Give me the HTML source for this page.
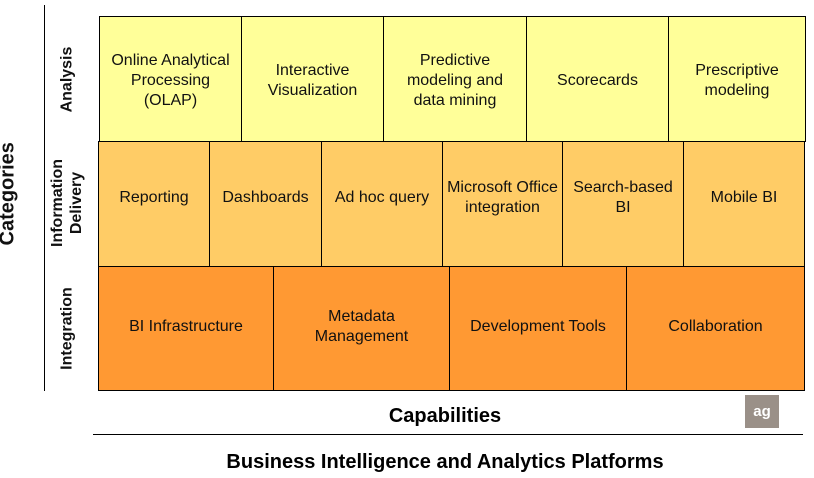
<!DOCTYPE html>
<html><head><style>
body{margin:0;width:814px;height:478px;background:#fff;position:relative;overflow:hidden;font-family:"Liberation Sans",sans-serif}
.c{position:absolute;box-sizing:border-box;border:1px solid #000;display:flex;align-items:center;justify-content:center;text-align:center;font-size:16px;line-height:20px;color:#111}
.r1{background:#FFFF99;top:16px;height:126px;padding-top:4px}
.r2{background:#FFCC66;top:141px;height:126px;padding-bottom:12px}
.r3{background:#FF9933;top:266px;height:125px;padding-bottom:4px}
.v{position:absolute;transform:rotate(-90deg);transform-origin:center;white-space:nowrap;text-align:center;font-size:16px;line-height:19px;color:#111;font-weight:bold}
</style></head><body>
<div style="position:absolute;left:44px;top:5px;width:1px;height:386px;background:#000"></div>
<div class="v" style="left:-42px;top:186px;width:100px;font-size:20px">Categories</div>
<div class="v" style="left:17px;top:70px;width:100px">Analysis</div>
<div class="v" style="left:17px;top:184px;width:100px">Information<br>Delivery</div>
<div class="v" style="left:17px;top:319px;width:100px">Integration</div>

<div class="c r1" style="left:99px;width:143px">Online Analytical<br>Processing<br>(OLAP)</div>
<div class="c r1" style="left:241px;width:143px">Interactive<br>Visualization</div>
<div class="c r1" style="left:383px;width:144px">Predictive<br>modeling and<br>data mining</div>
<div class="c r1" style="left:526px;width:143px">Scorecards</div>
<div class="c r1" style="left:668px;width:138px">Prescriptive<br>modeling</div>

<div class="c r2" style="left:98px;width:112px">Reporting</div>
<div class="c r2" style="left:209px;width:113px">Dashboards</div>
<div class="c r2" style="left:321px;width:122px">Ad hoc query</div>
<div class="c r2" style="left:442px;width:121px">Microsoft Office<br>integration</div>
<div class="c r2" style="left:562px;width:122px">Search-based<br>BI</div>
<div class="c r2" style="left:683px;width:122px">Mobile BI</div>

<div class="c r3" style="left:98px;width:176px">BI Infrastructure</div>
<div class="c r3" style="left:273px;width:177px">Metadata<br>Management</div>
<div class="c r3" style="left:449px;width:178px">Development Tools</div>
<div class="c r3" style="left:626px;width:179px">Collaboration</div>

<div style="position:absolute;left:300px;top:405px;width:290px;text-align:center;font-weight:bold;font-size:20px">Capabilities</div>
<div style="position:absolute;left:745px;top:395px;width:34px;height:33px;background:#9a9088;color:#fff;font-weight:bold;font-size:15px;display:flex;align-items:center;justify-content:center">ag</div>
<div style="position:absolute;left:93px;top:434px;width:710px;height:1px;background:#000"></div>
<div style="position:absolute;left:110px;top:451px;width:670px;text-align:center;font-weight:bold;font-size:20px">Business Intelligence and Analytics Platforms</div>
</body></html>
